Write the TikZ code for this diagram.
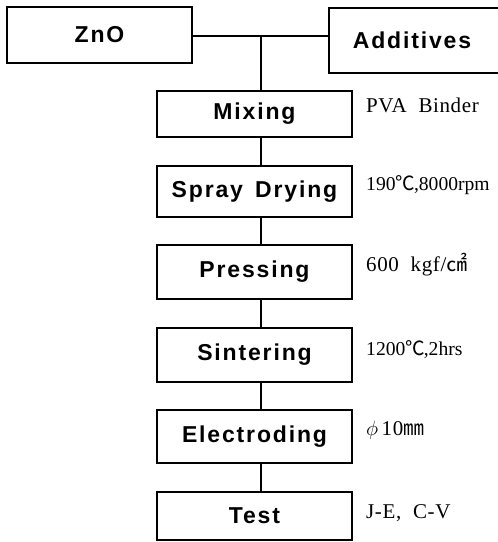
\documentclass[tikz,border=0pt]{standalone}
\usepackage{fontspec}
\setmainfont{Liberation Serif}
\newfontfamily\boxfont[LetterSpace=8]{Liberation Sans Bold}
\newfontfamily\notefont[LetterSpace=3]{Liberation Serif}
\newfontfamily\tightfont{Liberation Serif}
\newfontfamily\cjk{Noto Sans CJK KR}
\newcommand{\mydegc}{{\cjk\hspace{0pt}℃\hspace{-1.2pt}}}
\begin{document}
\begin{tikzpicture}[x=1pt,y=-1pt,
  stepbox/.style={draw,line width=1.3pt,rectangle,inner sep=0pt,
    font=\boxfont\fontsize{23}{26}\selectfont},
  colbox/.style={stepbox,minimum width=195pt},
  note/.style={anchor=west,inner sep=0pt,font=\notefont\fontsize{21}{24}\selectfont},
  tightnote/.style={note,font=\tightfont\fontsize{19.6}{24}\selectfont},
  link/.style={line width=1.3pt}]
\useasboundingbox (0,0) rectangle (498,542);
\node[stepbox,minimum width=185pt,minimum height=56pt] (zno) at (99.5,35) {ZnO};
\node[stepbox,minimum width=172pt,minimum height=65pt] (add) at (415,40.5) {Additives\hspace*{6pt}};
\coordinate (j) at (261,36);
\node[colbox,minimum height=46pt] (mix) at (254.5,114) {Mixing};
\node[colbox,minimum height=51pt] (spray) at (254.5,191.5) {Spray\hspace{4pt} Drying};
\node[colbox,minimum height=54pt] (press) at (254.5,272) {Pressing};
\node[colbox,minimum height=54pt] (sint) at (254.5,355) {Sintering};
\node[colbox,minimum height=53pt] (elec) at (254.5,436.5) {Electroding};
\node[colbox,minimum height=48pt] (test) at (254.5,516) {Test};
\draw[link] (j -| zno.east) -- (j -| add.west);
\draw[link] (j) -- (j |- mix.north);
\draw[link] (mix.south -| j) -- (spray.north -| j);
\draw[link] (spray.south -| j) -- (press.north -| j);
\draw[link] (press.south -| j) -- (sint.north -| j);
\draw[link] (sint.south -| j) -- (elec.north -| j);
\draw[link] (elec.south -| j) -- (test.north -| j);
\node[note] (n1) at (366,105) {PVA\ \ Binder};
\node[tightnote] (n2) at (366,185) {190\mydegc,8000rpm};
\node[note] (n3) at (366,265) {600\ \ kgf/{\cjk ㎠}};
\node[tightnote] (n4) at (366,350) {1200\mydegc,2hrs};
\node[note] (n5) at (366,430) {$\phi$\,10{\cjk ㎜}};
\node[note] (n6) at (366,513) {J-E,\ \ C-V};
\end{tikzpicture}
\end{document}
